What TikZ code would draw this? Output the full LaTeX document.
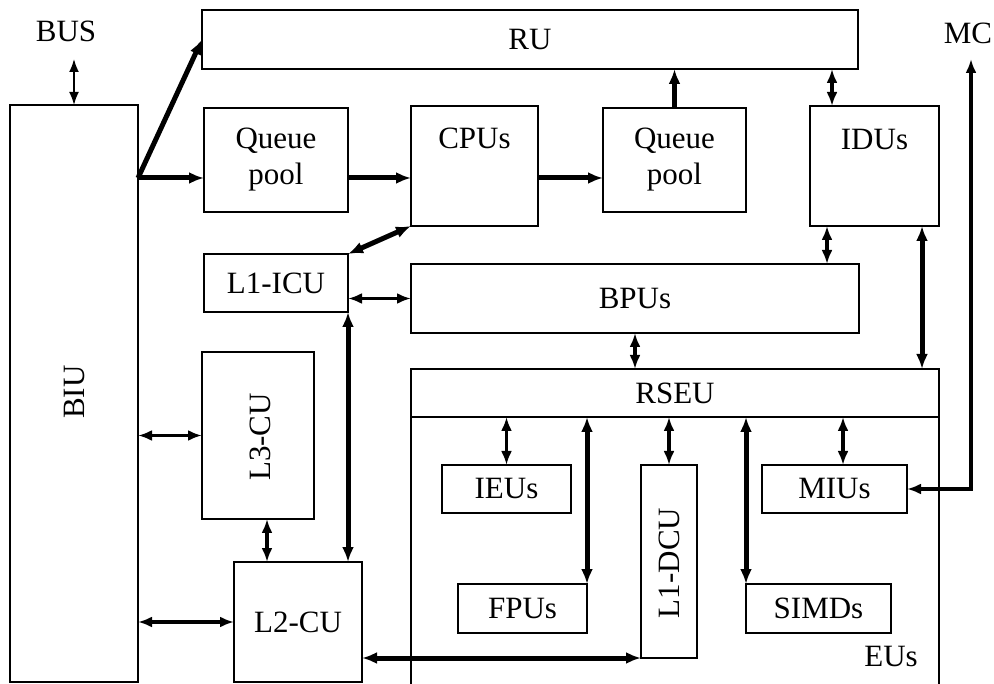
\documentclass[tikz,border=0pt]{standalone}
\usepackage{fontspec}
\setmainfont{Liberation Serif}
\usetikzlibrary{arrows.meta}
\begin{document}
\begin{tikzpicture}[x=1pt,y=-1pt,
  box/.style={draw, line width=1.5pt, inner sep=0pt, outer sep=0pt, font=\fontsize{31}{36}\selectfont, align=center},
  txt/.style={font=\fontsize{31}{36}\selectfont, inner sep=0pt},
  thinarrow/.style={line width=1.8pt, {Latex[length=13pt,width=10pt]}-{Latex[length=13pt,width=10pt]}},
  medarrow/.style={line width=3.5pt, {Latex[length=14pt,width=11pt]}-{Latex[length=14pt,width=11pt]}},
  thickarrow/.style={line width=5pt, {Latex[length=15pt,width=12pt]}-{Latex[length=15pt,width=12pt]}},
  thickone/.style={line width=5pt, -{Latex[length=15pt,width=12pt]}},
  rot/.style={rotate=90}
]
\useasboundingbox (0,0) rectangle (994,684);

% boxes
\node[box, minimum width=656pt, minimum height=59pt] (RU) at (530,39.5) {RU};
\node[box, minimum width=128pt, minimum height=577pt] (BIU) at (74,393.5) {};
\node[txt, rotate=90] at (75,392) {BIU};
\node[box, minimum width=144pt, minimum height=104pt] (QP1) at (276,160) {Queue\\pool};
\node[box, minimum width=127pt, minimum height=120pt] (CPUs) at (474.5,166) {};
\node[txt] at (474.5,138) {CPUs};
\node[box, minimum width=143pt, minimum height=104pt] (QP2) at (674.5,160) {Queue\\pool};
\node[box, minimum width=129pt, minimum height=120pt] (IDUs) at (874.5,166) {};
\node[txt] at (874.5,140) {IDUs};
\node[box, minimum width=144pt, minimum height=58pt] (L1ICU) at (276,283) {L1-ICU};
\node[box, minimum width=448pt, minimum height=69pt] (BPUs) at (635,298.5) {BPUs};
\node[box, minimum width=112pt, minimum height=167pt] (L3CU) at (258,435.5) {};
\node[txt, rotate=90] at (260,437) {L3-CU};
\node[box, minimum width=128pt, minimum height=120pt] (L2CU) at (298,622) {L2-CU};
\node[box, minimum width=528pt, minimum height=48pt] (RSEU) at (675,393) {RSEU};
\draw[line width=1.5pt] (RSEU.south west) -- (RSEU.south west |- 0,686);
\draw[line width=1.5pt] (RSEU.south east) -- (RSEU.south east |- 0,686);
\node[box, minimum width=129pt, minimum height=48pt] (IEUs) at (506.5,489) {IEUs};
\node[box, minimum width=129pt, minimum height=49pt] (FPUs) at (522.5,608.5) {FPUs};
\node[box, minimum width=56pt, minimum height=193pt] (L1DCU) at (669,561.5) {};
\node[txt, rotate=90] at (669,563) {L1-DCU};
\node[box, minimum width=145pt, minimum height=48pt] (MIUs) at (834.5,489) {MIUs};
\node[box, minimum width=145pt, minimum height=49pt] (SIMDs) at (818.5,608.5) {SIMDs};

% free labels
\node[txt] (BUS) at (66,31) {BUS};
\node[txt] (MC) at (968,33) {MC};
\node[txt] (EUs) at (891,657) {EUs};

% helper coordinates
\coordinate (row) at (0,178);
\coordinate (busend) at (74,59);
\coordinate (mcend) at (971,59);
\coordinate (mccorner) at (971,489);
\coordinate (xa) at (832,0);
\coordinate (xb) at (827,0);
\coordinate (xc) at (922,0);
\coordinate (xd) at (267,0);
\coordinate (xe) at (843,0);

% connectors
\draw[thinarrow] (busend) -- (BIU.north);
\draw[thickone] (BIU.east |- row) -- (RU.west);
\draw[thickone] (BIU.east |- row) -- (QP1.west |- row);
\draw[thickone] (QP1.east |- row) -- (CPUs.west |- row);
\draw[thickone] (CPUs.east |- row) -- (QP2.west |- row);
\draw[thickone] (QP2.north) -- (QP2.north |- RU.south);
\draw[medarrow] (RU.south -| xa) -- (IDUs.north -| xa);
\draw[medarrow] (IDUs.south -| xb) -- (BPUs.north -| xb);
\draw[thickarrow] (IDUs.south -| xc) -- (RSEU.north -| xc);
\draw[thickarrow] (CPUs.south west) -- (L1ICU.north east);
\draw[medarrow] (L1ICU.east |- BPUs.west) -- (BPUs.west);
\draw[thickarrow] (L1ICU.south east) -- (L2CU.north -| L1ICU.south east);
\draw[medarrow] (BIU.east |- L3CU.west) -- (L3CU.west);
\draw[medarrow] (BIU.east |- L2CU.west) -- (L2CU.west);
\draw[medarrow] (L3CU.south -| xd) -- (L2CU.north -| xd);
\draw[thickarrow] (L2CU.east |- L1DCU.south west) -- (L1DCU.south west);
\draw[medarrow] (BPUs.south) -- (RSEU.north -| BPUs.south);
\draw[medarrow] (IEUs.north |- RSEU.south) -- (IEUs.north);
\draw[thickarrow] (FPUs.north east |- RSEU.south) -- (FPUs.north east);
\draw[medarrow] (L1DCU.north |- RSEU.south) -- (L1DCU.north);
\draw[thickarrow] (SIMDs.north west |- RSEU.south) -- (SIMDs.north west);
\draw[medarrow] (RSEU.south -| xe) -- (MIUs.north -| xe);
\draw[line width=3.2pt, {Latex[length=14pt,width=11pt]}-{Latex[length=14pt,width=11pt]}] (MIUs.east) -- (mccorner) -- (mcend);
\end{tikzpicture}
\end{document}
